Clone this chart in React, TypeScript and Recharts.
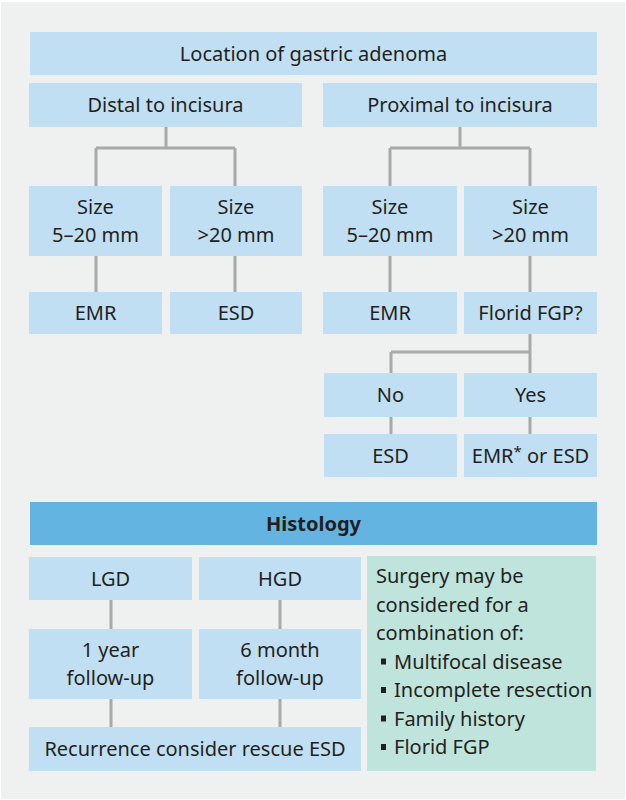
import React from 'react'
import { ScatterChart, Scatter, XAxis, YAxis, ReferenceArea, ReferenceLine } from 'recharts'

const FONT = '"Noto Sans", "Open Sans", sans-serif'
const INK = '#231f20'
const fills: Record<string, string> = { box: '#c1dff2', head: '#63b4e1', note: '#bfe4dc' }
const WIRE = '#a8a9aa'

// flowchart boxes in page units (y grows downwards)
const boxes = [
  { lines: ['Location of gastric adenoma'], x1: 30, x2: 597, y1: 32, y2: 75, kind: 'box' },
  { lines: ['Distal to incisura'], x1: 29, x2: 302, y1: 83, y2: 127, kind: 'box' },
  { lines: ['Proximal to incisura'], x1: 323, x2: 597, y1: 83, y2: 127, kind: 'box' },
  { lines: ['Size', '5\u201320 mm'], x1: 29, x2: 162, y1: 186, y2: 256, kind: 'box' },
  { lines: ['Size', '>20 mm'], x1: 170, x2: 302, y1: 186, y2: 256, kind: 'box' },
  { lines: ['Size', '5\u201320 mm'], x1: 323, x2: 457, y1: 186, y2: 256, kind: 'box' },
  { lines: ['Size', '>20 mm'], x1: 464, x2: 597, y1: 186, y2: 256, kind: 'box' },
  { lines: ['EMR'], x1: 29, x2: 162, y1: 292, y2: 334, kind: 'box' },
  { lines: ['ESD'], x1: 170, x2: 302, y1: 292, y2: 334, kind: 'box' },
  { lines: ['EMR'], x1: 323, x2: 457, y1: 292, y2: 334, kind: 'box' },
  { lines: ['Florid FGP?'], x1: 464, x2: 597, y1: 292, y2: 334, kind: 'box' },
  { lines: ['No'], x1: 324, x2: 457, y1: 373, y2: 417, kind: 'box' },
  { lines: ['Yes'], x1: 464, x2: 597, y1: 373, y2: 417, kind: 'box' },
  { lines: ['ESD'], x1: 324, x2: 457, y1: 434, y2: 477, kind: 'box' },
  { lines: ['EMR* or ESD'], x1: 464, x2: 597, y1: 434, y2: 477, kind: 'box' },
  { lines: ['Histology'], x1: 30, x2: 597, y1: 502, y2: 545, kind: 'head' },
  { lines: ['LGD'], x1: 29, x2: 192, y1: 557, y2: 600, kind: 'box' },
  { lines: ['HGD'], x1: 199, x2: 361, y1: 557, y2: 600, kind: 'box' },
  { lines: ['1 year', 'follow-up'], x1: 29, x2: 192, y1: 629, y2: 699, kind: 'box' },
  { lines: ['6 month', 'follow-up'], x1: 199, x2: 361, y1: 629, y2: 699, kind: 'box' },
  { lines: ['Recurrence consider rescue ESD'], x1: 29, x2: 361, y1: 727, y2: 771, kind: 'box' },
]

const noteBox = { x1: 367, x2: 596, y1: 556, y2: 771 }
const noteIntro = ['Surgery may be', 'considered for a', 'combination of:']
const noteBullets = ['Multifocal disease', 'Incomplete resection', 'Family history', 'Florid FGP']

// connector segments [x1, y1, x2, y2]
const wires = [
  [166, 127, 166, 148], [96, 148, 235, 148], [96, 148, 96, 186], [235, 148, 235, 186],
  [460, 127, 460, 148], [390, 148, 530, 148], [390, 148, 390, 186], [530, 148, 530, 186],
  [96, 256, 96, 292], [235, 256, 235, 292], [390, 256, 390, 292], [530, 256, 530, 292],
  [530, 334, 530, 373], [391, 352, 530, 352], [391, 352, 391, 373],
  [391, 417, 391, 434], [530, 417, 530, 434],
  [111, 600, 111, 629], [280, 600, 280, 629], [111, 699, 111, 727], [280, 699, 280, 727],
]

const labelPoints = boxes.map((b) => ({ x: (b.x1 + b.x2) / 2, y: (b.y1 + b.y2) / 2, lines: b.lines, kind: b.kind }))
const notePoints = [{ x: noteBox.x1, y: noteBox.y1 }]

const LINE_H = 28.5
const FS = 20

function renderLine(s: string) {
  if (!s.includes('*')) return s
  const [a, b] = s.split('*')
  return (
    <>
      {a}
      <tspan dy={-6} fontSize={15}>*</tspan>
      <tspan dy={6}>{b}</tspan>
    </>
  )
}

function BoxLabel(props: any) {
  const { cx, cy, payload } = props
  if (cx == null) return null
  const n = payload.lines.length
  return (
    <text textAnchor="middle" fontFamily={FONT} fontSize={FS} fill={INK} fontWeight={payload.kind === 'head' ? 700 : 400}>
      {payload.lines.map((l: string, i: number) => (
        <tspan key={i} x={cx} y={cy + (i - (n - 1) / 2) * LINE_H + 7}>{renderLine(l)}</tspan>
      ))}
    </text>
  )
}

function NoteText(props: any) {
  const { cx, cy } = props
  if (cx == null) return null
  const left = cx + 9
  const base = cy + 27
  return (
    <g fontFamily={FONT} fontSize={FS} fill={INK}>
      {noteIntro.map((l, i) => (
        <text key={'i' + i} x={left} y={base + i * LINE_H}>{l}</text>
      ))}
      {noteBullets.map((l, i) => {
        const y = base + (i + noteIntro.length) * LINE_H
        return (
          <g key={'b' + i}>
            <rect x={left + 5} y={y - 10} width={5} height={6} fill={INK} />
            <text x={left + 18} y={y}>{l}</text>
          </g>
        )
      })}
    </g>
  )
}

export default function App() {
  return (
    <div style={{ width: 626, height: 800, background: '#fff' }}>
      <style>{'body{margin:0}'}</style>
      <ScatterChart width={626} height={800} margin={{ top: 0, right: 0, bottom: 0, left: 0 }}>
        <XAxis type="number" dataKey="x" domain={[0, 626]} hide allowDataOverflow />
        <YAxis type="number" dataKey="y" domain={[0, 800]} reversed hide allowDataOverflow />
        <ReferenceArea x1={1} x2={625} y1={2} y2={799} fill="#eff0f0" fillOpacity={1} stroke="none" />
        {wires.map((w, i) => (
          <ReferenceLine key={'w' + i} segment={[{ x: w[0], y: w[1] }, { x: w[2], y: w[3] }]} stroke={WIRE} strokeWidth={3} />
        ))}
        {boxes.map((b, i) => (
          <ReferenceArea key={'b' + i} x1={b.x1} x2={b.x2} y1={b.y1} y2={b.y2} fill={fills[b.kind]} fillOpacity={1} stroke="none" />
        ))}
        <ReferenceArea x1={noteBox.x1} x2={noteBox.x2} y1={noteBox.y1} y2={noteBox.y2} fill={fills.note} fillOpacity={1} stroke="none" />
        <Scatter data={labelPoints} shape={BoxLabel} isAnimationActive={false} />
        <Scatter data={notePoints} shape={NoteText} isAnimationActive={false} />
      </ScatterChart>
    </div>
  )
}
